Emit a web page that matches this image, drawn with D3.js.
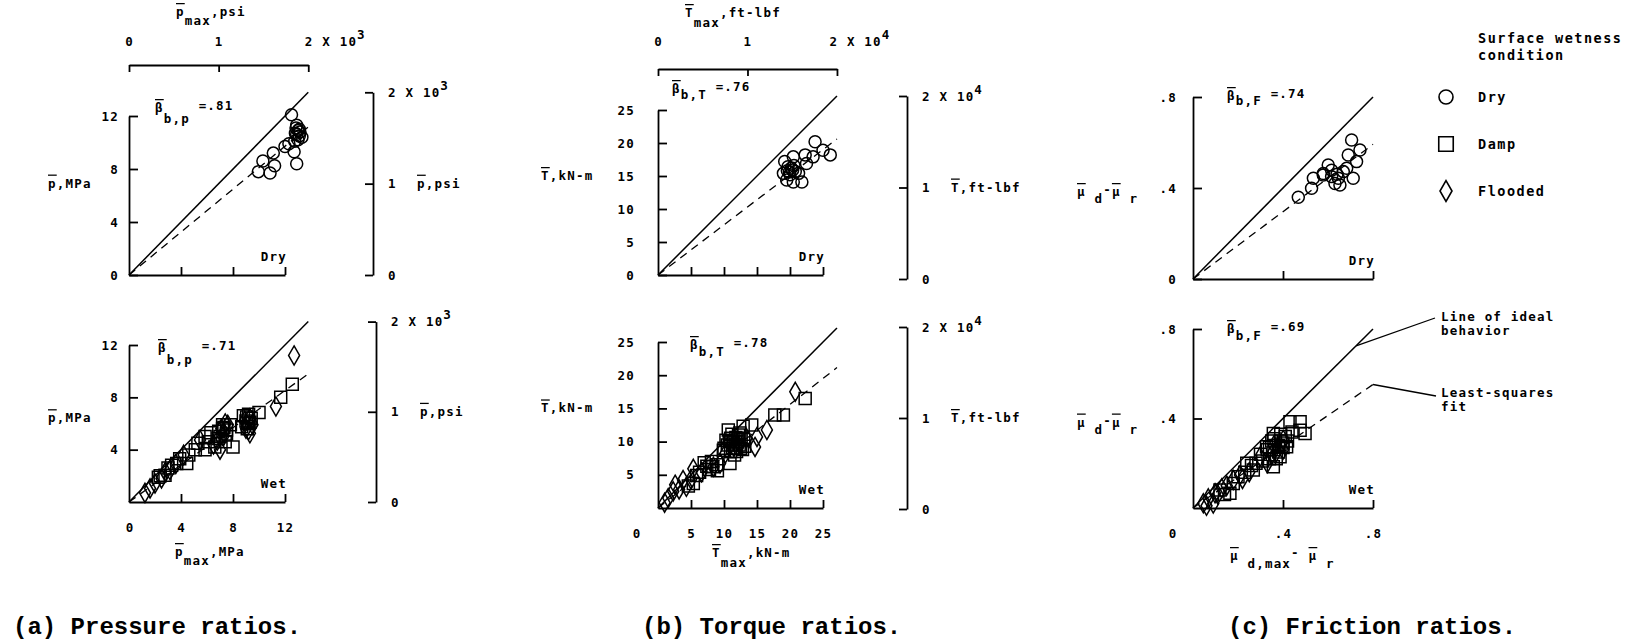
<!DOCTYPE html>
<html><head><meta charset="utf-8">
<script src="https://cdn.jsdelivr.net/npm/d3@7"></script>
<style>
body{margin:0;background:#fff;}
svg text{font-family:"DejaVu Sans Mono",monospace;font-size:12.5px;font-weight:bold;fill:#000;letter-spacing:1.2px;}
svg text.cap{font-family:"Liberation Mono",monospace;font-size:24px;font-weight:bold;letter-spacing:0;}
svg text.leg{font-size:13.5px;letter-spacing:1.5px;}
svg text.note{letter-spacing:1.2px;}
tspan.bar{text-decoration:overline;}
</style></head><body>
<svg id="c" width="1640" height="640"></svg>
<script>
// ---------------- data ----------------
const MPA_PER_PSI = 0.00689476, KNM_PER_FTLBF = 0.00135582;
const pressureTicks = [4, 8, 12];
const torqueTicks = [5, 10, 15, 20, 25];
const frictionTicks = [0.4, 0.8];
const psiTicks = [0, 1000, 2000];
const ftlbfTicks = [0, 10000, 20000];
const betaDry = [".81", ".76", ".74"];
const betaWet = [".71", ".78", ".69"];
const legendLabels = ["Dry", "Damp", "Flooded"];
const captions = ["(a) Pressure ratios.", "(b) Torque ratios.", "(c) Friction ratios."];

const pressureDry = [[12.5,12.1],[12.9,11.3],[13.15,10.8],[12.8,10.7],[13.3,10.4],[13.0,10.2],[12.75,10.1],[12.0,9.7],[12.3,9.9],[12.7,9.3],[12.9,8.4],[11.1,9.2],[10.3,8.6],[11.2,8.25],[10.85,7.7],[9.95,7.8],[13.1,11.0],[12.9,10.6],[13.0,10.9],[12.85,11.1],[13.1,10.5]];
const pressureDamp = [[12.56,9.0],[11.67,8.0],[10.0,6.85],[9.05,6.5],[9.3,6.1],[8.67,5.75],[9.1,5.6],[8.0,4.2],[7.5,5.2],[7.8,5.9],[7.2,5.6],[6.6,4.2],[6.85,4.85],[5.85,5.0],[5.85,4.0],[5.1,4.0],[5.3,4.5],[4.44,2.95],[3.67,2.95],[3.28,2.8],[3.9,3.3],[2.77,2.05],[2.26,1.9],[4.6,3.6],[7.4,4.6],[9.4,6.4],[6.3,5.3],[6.9,5.4],[7.3,5.7],[8.8,6.6],[9.2,6.0],[7.0,5.0],[6.1,4.6],[3.0,2.6],[2.4,2.0],[7.2,5.9],[9.2,6.7],[9.0,6.2],[7.5,5.5]];
const pressureFlooded = [[12.7,11.2],[11.3,7.3],[9.3,5.25],[9.0,5.6],[7.25,5.0],[7.0,4.0],[7.1,5.6],[5.46,4.74],[4.2,3.6],[3.15,2.44],[2.5,1.8],[2.0,1.42],[1.62,1.04],[1.23,0.7],[2.8,2.3],[3.6,2.9],[6.5,4.4],[7.6,5.9],[8.9,6.2],[9.5,5.9],[7.3,5.3],[9.2,5.5],[6.8,4.7],[7.4,6.0],[9.3,6.4]];

const torqueDry = [[20.5,17.9],[19.2,17.2],[23.8,20.2],[25.0,18.9],[26.1,18.2],[22.5,16.9],[23.5,17.9],[22.3,18.2],[19.7,16.4],[19.0,15.4],[20.0,15.2],[20.8,15.7],[21.3,15.4],[21.8,14.1],[20.5,14.1],[19.5,14.4],[20.2,16.2],[19.6,15.8],[20.4,15.9],[19.9,15.6],[20.6,16.6]];
const torqueDamp = [[22.3,16.5],[19.0,14.0],[17.7,14.0],[14.2,12.5],[12.9,12.3],[10.65,11.75],[12.4,11.3],[11.4,10.0],[9.9,8.7],[11.9,8.5],[10.9,6.7],[8.9,6.5],[8.1,7.0],[7.8,5.8],[9.0,5.6],[5.35,3.7],[5.85,4.9],[13.15,9.3],[11.0,10.5],[11.5,9.5],[12.0,10.0],[12.5,9.0],[10.5,9.5],[11.0,8.5],[12.2,11.0],[13.0,10.3],[7.4,6.3],[4.6,3.3],[10.3,10.2],[11.8,10.6],[12.6,10.4],[11.2,11.1],[10.0,9.0],[12.8,8.8],[11.6,8.0],[7.0,6.8],[6.3,5.4],[11.3,9.0],[12.3,9.5],[10.8,10.0],[11.7,9.0],[8.3,6.2]];
const torqueFlooded = [[20.8,17.5],[16.5,11.75],[14.7,9.2],[15.0,10.7],[9.4,6.7],[5.35,5.9],[3.8,4.2],[2.6,3.5],[2.3,2.5],[1.55,1.5],[1.0,0.8],[4.3,3.2],[13.4,10.5],[6.6,5.4],[3.2,2.8],[10.2,8.2],[12.4,9.6],[11.5,9.2],[8.4,6.2],[5.0,4.3]];

const frictionDry = [[0.468,0.359],[0.527,0.399],[0.535,0.443],[0.601,0.501],[0.579,0.457],[0.579,0.464],[0.616,0.45],[0.646,0.443],[0.631,0.42],[0.653,0.413],[0.683,0.487],[0.712,0.443],[0.705,0.611],[0.69,0.545],[0.742,0.567],[0.727,0.516],[0.668,0.472],[0.616,0.478],[0.64,0.46]];
const frictionDamp = [[0.476,0.348],[0.431,0.385],[0.357,0.333],[0.239,0.2],[0.357,0.184],[0.179,0.11],[0.164,0.066],[0.416,0.274],[0.387,0.229],[0.327,0.274],[0.476,0.385],[0.498,0.333],[0.268,0.17],[0.39,0.3],[0.36,0.26],[0.41,0.32],[0.34,0.22],[0.3,0.24],[0.2,0.14],[0.44,0.34],[0.38,0.28],[0.35,0.3],[0.4,0.27],[0.37,0.22],[0.33,0.26],[0.42,0.3],[0.39,0.33],[0.31,0.21],[0.28,0.2],[0.23,0.16],[0.26,0.19],[0.12,0.08],[0.14,0.06],[0.38,0.25],[0.36,0.31],[0.4,0.29],[0.34,0.27]];
const frictionFlooded = [[0.046,0.021],[0.068,0.043],[0.098,0.066],[0.128,0.088],[0.179,0.125],[0.209,0.147],[0.298,0.229],[0.401,0.304],[0.09,0.02],[0.15,0.1],[0.37,0.25],[0.33,0.2],[0.25,0.16],[0.36,0.28],[0.35,0.24],[0.4,0.26],[0.22,0.13],[0.11,0.06],[0.06,0.01]];

// ---------------- drawing ----------------
const svg = d3.select("#c");
const SW = 1.8;
const symCircle = d3.symbol().type(d3.symbolCircle).size(113);
const symSquare = d3.symbol().type(d3.symbolSquare).size(144);
const symDiamond = d3.symbol().type(d3.symbolDiamond).size(105);

function styleAxis(sel) {
  sel.attr("font-family", null).attr("font-size", null);
  sel.selectAll("path,line").attr("stroke-width", SW).attr("stroke", "#000");
}
function rich(x, y, parts, cls) {
  const t = svg.append("text").attr("x", x).attr("y", y);
  if (cls) t.attr("class", cls);
  let cur = 0;
  parts.forEach(p => {
    const off = p.off || 0;
    const s = t.append("tspan").attr("dy", off - cur).text(p.t);
    if (p.bar) s.attr("class", "bar");
    cur = off;
  });
  return t;
}
function expText(sel, exp) {
  sel.text("");
  sel.append("tspan").text("2 X 10");
  sel.append("tspan").attr("dy", -7).text(exp);
}
function points(data, x, y, sym) {
  svg.append("g").selectAll("path").data(data).join("path")
    .attr("transform", d => `translate(${x(d[0])},${y(d[1])})`)
    .attr("d", sym).attr("fill", "none").attr("stroke", "#000").attr("stroke-width", 1.5);
}

function panel(o) {
  const {x, y} = o;
  svg.append("g").attr("transform", `translate(${x(0)},0)`)
    .call(d3.axisLeft(y).tickValues(o.wet ? o.ticks : [0, ...o.ticks]).tickSizeInner(-9).tickSizeOuter(0)
      .tickPadding(o.ypad).tickFormat(o.fmt)).call(styleAxis);
  svg.append("g").attr("transform", `translate(0,${y(0)})`)
    .call(d3.axisBottom(x).tickValues(o.ticks).tickSizeInner(-8).tickSizeOuter(0)
      .tickPadding(21).tickFormat(o.wet ? o.fmt : () => "")).call(styleAxis);
  if (o.wet) svg.append("text").attr("x", x(0) + o.zeroDx).attr("y", y(0) + 30)
    .attr("text-anchor", "middle").text("0");
  const line = d3.line().x(d => x(d[0])).y(d => y(d[1]));
  svg.append("path").attr("d", line([[0, 0], [o.lmax, o.lmax]]))
    .attr("fill", "none").attr("stroke", "#000").attr("stroke-width", 1.5);
  svg.append("path").attr("d", line([[0, 0], [o.lmax, o.lmax * (+o.beta)]]))
    .attr("fill", "none").attr("stroke", "#000").attr("stroke-width", 1.3).attr("stroke-dasharray", "8,6");
  points(o.dry || [], x, y, symCircle);
  points(o.damp || [], x, y, symSquare);
  points(o.flood || [], x, y, symDiamond);
  svg.append("text").attr("x", x(o.ticks[o.ticks.length - 1]) + 2).attr("y", y(0) - 14)
    .attr("text-anchor", "end").text(o.wet ? "Wet" : "Dry");
  rich(o.bx, o.by, [{t: "\u03B2", bar: true}, {t: "b," + o.bsub, off: o.bsoff}, {t: " =" + o.beta, off: -2}]);
}

// ---- panel (a) pressure ----
const xA = d3.scaleLinear().domain([0, 12]).range([129, 285]);
const yAd = d3.scaleLinear().domain([0, 12]).range([275, 116]);
const yAw = d3.scaleLinear().domain([0, 12]).range([502, 345]);
const pMax = 2000 * MPA_PER_PSI;
const fmtA = d3.format("d");
panel({x: xA, y: yAd, ticks: pressureTicks, fmt: fmtA, ypad: 10, lmax: pMax, beta: betaDry[0],
  dry: pressureDry, bx: 155, by: 112, bsub: "p", bsoff: 11});
panel({x: xA, y: yAw, ticks: pressureTicks, fmt: fmtA, ypad: 10, lmax: pMax, beta: betaWet[0], wet: true,
  damp: pressureDamp, flood: pressureFlooded, zeroDx: 1, bx: 158, by: 352, bsub: "p", bsoff: 12});

const psiTop = d3.scaleLinear().domain([0, 2000]).range([xA(0), xA(pMax)]);
const gPsiTop = svg.append("g").attr("transform", "translate(0,65)")
  .call(d3.axisTop(psiTop).tickValues(psiTicks).tickSizeInner(-7).tickSizeOuter(0).tickPadding(19)
    .tickFormat(d => d / 1000)).call(styleAxis);
gPsiTop.selectAll(".tick text").filter(d => d === 2000).attr("text-anchor", "start").attr("x", -4)
  .each(function () { expText(d3.select(this), "3"); });
rich(176, 16, [{t: "p", bar: true}, {t: "max", off: 9}, {t: ",psi"}]);
rich(175, 556, [{t: "p", bar: true}, {t: "max", off: 9}, {t: ",MPa"}]);

function rightAxis(xpos, scale, ticks, exp, label) {
  const g = svg.append("g").attr("transform", `translate(${xpos},0)`)
    .call(d3.axisRight(scale).tickValues(ticks).tickSizeInner(-8).tickSizeOuter(0).tickPadding(15)
      .tickFormat(d => d / ticks[1])).call(styleAxis);
  g.selectAll(".tick text").filter(d => d === ticks[2]).each(function () { expText(d3.select(this), exp); });
  rich(xpos + 44, scale(ticks[1]) + 4, label);
}
rightAxis(373, d3.scaleLinear().domain([0, 2000]).range([yAd(0), yAd(pMax)]), psiTicks, "3",
  [{t: "p", bar: true}, {t: ",psi"}]);
rightAxis(376, d3.scaleLinear().domain([0, 2000]).range([yAw(0), yAw(pMax)]), psiTicks, "3",
  [{t: "p", bar: true}, {t: ",psi"}]);
rich(48, yAd(6.6), [{t: "p", bar: true}, {t: ",MPa"}]);
rich(48, yAw(6.1), [{t: "p", bar: true}, {t: ",MPa"}]);

// ---- panel (b) torque ----
const xB = d3.scaleLinear().domain([0, 25]).range([658, 823]);
const yBd = d3.scaleLinear().domain([0, 25]).range([275, 110]);
const yBw = d3.scaleLinear().domain([0, 25]).range([508, 342]);
const tMax = 20000 * KNM_PER_FTLBF;
panel({x: xB, y: yBd, ticks: torqueTicks, fmt: fmtA, ypad: 23, lmax: tMax, beta: betaDry[1],
  dry: torqueDry, bx: 672, by: 93, bsub: "T", bsoff: 6});
panel({x: xB, y: yBw, ticks: torqueTicks, fmt: fmtA, ypad: 23, lmax: tMax, beta: betaWet[1], wet: true,
  damp: torqueDamp, flood: torqueFlooded, zeroDx: -21, bx: 690, by: 349, bsub: "T", bsoff: 7});
const ftTop = d3.scaleLinear().domain([0, 20000]).range([xB(0), xB(tMax)]);
const gFtTop = svg.append("g").attr("transform", "translate(0,69)")
  .call(d3.axisTop(ftTop).tickValues(ftlbfTicks).tickSizeInner(-7).tickSizeOuter(0).tickPadding(23)
    .tickFormat(d => d / 10000)).call(styleAxis);
gFtTop.selectAll(".tick text").filter(d => d === 20000).attr("text-anchor", "start").attr("x", -8)
  .each(function () { expText(d3.select(this), "4"); });
rich(685, 17, [{t: "T", bar: true}, {t: "max", off: 10}, {t: ",ft-lbf"}]);
rich(712, 557, [{t: "T", bar: true}, {t: "max", off: 10}, {t: ",kN-m"}]);
rightAxis(907, d3.scaleLinear().domain([0, 20000]).range([279, 96]), ftlbfTicks, "4",
  [{t: "T", bar: true}, {t: ",ft-lbf"}]);
rightAxis(907, d3.scaleLinear().domain([0, 20000]).range([509, 327]), ftlbfTicks, "4",
  [{t: "T", bar: true}, {t: ",ft-lbf"}]);
rich(541, yBd(15) + 4, [{t: "T", bar: true}, {t: ",kN-m"}]);
rich(541, yBw(15) + 4, [{t: "T", bar: true}, {t: ",kN-m"}]);

// ---- panel (c) friction ----
const xC = d3.scaleLinear().domain([0, 0.8]).range([1193, 1373]);
const yCd = d3.scaleLinear().domain([0, 0.8]).range([279, 97]);
const yCw = d3.scaleLinear().domain([0, 0.8]).range([508, 329]);
const fmtC = d => d === 0 ? "0" : d3.format(".1f")(d).replace(/^0/, "");
panel({x: xC, y: yCd, ticks: frictionTicks, fmt: fmtC, ypad: 16, lmax: 0.8, beta: betaDry[2],
  dry: frictionDry, bx: 1227, by: 100, bsub: "F", bsoff: 5});
panel({x: xC, y: yCw, ticks: frictionTicks, fmt: fmtC, ypad: 16, lmax: 0.8, beta: betaWet[2], wet: true,
  damp: frictionDamp, flood: frictionFlooded, zeroDx: -20, bx: 1227, by: 333, bsub: "F", bsoff: 7});
const muLabel = [{t: "\u03BC", bar: true}, {t: " d", off: 7}, {t: "-", off: -2}, {t: "\u03BC", bar: true}, {t: " r", off: 7}];
rich(1077, yCd(0.4) + 8, muLabel);
rich(1077, yCw(0.4) + 8, muLabel);
rich(1230, 560, [{t: "\u03BC", bar: true}, {t: " d,max", off: 8}, {t: "- ", off: -3}, {t: "\u03BC", bar: true}, {t: " r", off: 8}]);

// annotations
const ideal = [0.725, 0.725];
svg.append("path").attr("d", d3.line()([[xC(ideal[0]), yCw(ideal[1])], [1435, 318]]))
  .attr("fill", "none").attr("stroke", "#000").attr("stroke-width", 1.3);
svg.append("path").attr("d", d3.line()([[xC(0.8), yCw(0.8 * +betaWet[2])], [1436, 396]]))
  .attr("fill", "none").attr("stroke", "#000").attr("stroke-width", 1.3);
[["Line of ideal", 321], ["behavior", 335], ["Least-squares", 397], ["fit", 411]].forEach(([s, yy]) =>
  svg.append("text").attr("class", "note").attr("x", 1441).attr("y", yy).text(s));

// legend
svg.append("text").attr("class", "leg").attr("x", 1478).attr("y", 43).text("Surface wetness");
svg.append("text").attr("class", "leg").attr("x", 1478).attr("y", 60).text("condition");
const legSyms = [d3.symbol().type(d3.symbolCircle).size(154), d3.symbol().type(d3.symbolSquare).size(210),
  d3.symbol().type(d3.symbolDiamond).size(125)];
const legY = d3.scalePoint().domain(legendLabels).range([97, 191]);
legendLabels.forEach((l, i) => {
  svg.append("path").attr("transform", `translate(1446,${legY(l)})`).attr("d", legSyms[i])
    .attr("fill", "none").attr("stroke", "#000").attr("stroke-width", 1.6);
  svg.append("text").attr("class", "leg").attr("x", 1478).attr("y", legY(l) + 5).text(l);
});

// captions
const capX = [13, 642, 1228];
captions.forEach((c, i) => svg.append("text").attr("class", "cap").attr("x", capX[i]).attr("y", 634).text(c));
</script>
</body></html>
